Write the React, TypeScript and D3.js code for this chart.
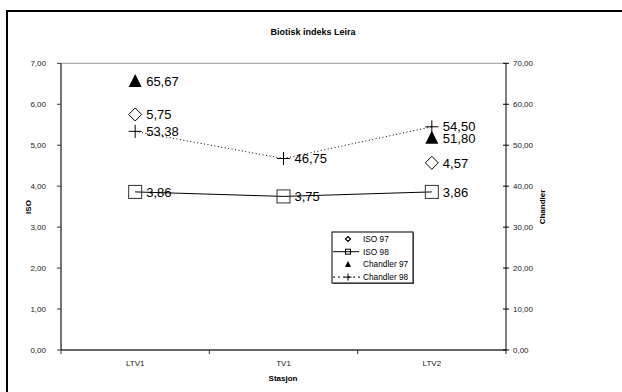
import React from "react";
import * as d3 from "d3";

const categories = ["LTV1", "TV1", "LTV2"];
const iso97: (number | null)[] = [5.75, null, 4.57];
const iso98: (number | null)[] = [3.86, 3.75, 3.86];
const chandler97: (number | null)[] = [65.67, null, 51.8];
const chandler98: (number | null)[] = [53.38, 46.75, 54.5];
const leftTicks = [0, 1, 2, 3, 4, 5, 6, 7];
const rightTicks = [0, 10, 20, 30, 40, 50, 60, 70];
const legendItems = ["ISO 97", "ISO 98", "Chandler 97", "Chandler 98"];

const W = 622;
const H = 392;
const PL = 61, PR = 506, PT = 63.3, PB = 350;

const loc = d3.formatLocale({ decimal: ",", thousands: " ", grouping: [3], currency: ["", ""] });
const f2 = loc.format(".2f");

const x = d3.scaleBand<string>().domain(categories).range([PL, PR]);
const cx = (c: string) => (x(c) as number) + x.bandwidth() / 2;
const yL = d3.scaleLinear().domain([0, 7]).range([PB, PT]);
const yR = d3.scaleLinear().domain([0, 70]).range([PB, PT]);

const FONT = "'Liberation Sans', Arial, sans-serif";

function diamond(px: number, py: number, r: number) {
  return `M${px},${py - r}L${px + r},${py}L${px},${py + r}L${px - r},${py}Z`;
}
function tri(px: number, py: number, r: number) {
  return `M${px},${py - r - 0.5}L${px + r},${py + r - 0.5}L${px - r},${py + r - 0.5}Z`;
}

export default function App() {
  const pts = (vals: (number | null)[], y: d3.ScaleLinear<number, number>) =>
    categories
      .map((c, i) => ({ c, v: vals[i], px: cx(c), py: vals[i] == null ? 0 : y(vals[i] as number) }))
      .filter((p) => p.v != null);

  const p97 = pts(iso97, yL);
  const p98 = pts(iso98, yL);
  const c97 = pts(chandler97, yR);
  const c98 = pts(chandler98, yR);

  const line = d3.line<{ px: number; py: number }>().x((d) => d.px).y((d) => d.py);

  const bounds = [0, 1, 2, 3].map((i) => PL + i * x.bandwidth());

  const labelFs = 13;
  const lx = 332, ly = 232, lw = 81, lh = 51;
  const rowY = (i: number) => ly + 7 + i * 12.7;
  const symX = 348;

  return (
    <svg width={W} height={H} style={{ position: "absolute", left: 0, top: 0, background: "#fff" }} fontFamily={FONT}>
      <rect x={0} y={0} width={W} height={H} fill="#fff" />
      {/* outer border */}
      <rect x={7} y={11} width={W + 10} height={H + 10} fill="none" stroke="#000" strokeWidth={2} />
      <text x={313} y={35} textAnchor="middle" fontSize={9} fontWeight="bold">Biotisk indeks Leira</text>

      {/* plot frame */}
      <line x1={PL} x2={PR} y1={PT} y2={PT} stroke="#999" strokeWidth={1} />
      <line x1={PL} x2={PL} y1={PT} y2={PB} stroke="#444" strokeWidth={1.5} />
      <line x1={PR} x2={PR} y1={PT} y2={PB} stroke="#000" strokeWidth={1} />
      <line x1={PL} x2={PR + 0.5} y1={PB} y2={PB} stroke="#333" strokeWidth={1.5} />

      {/* left ticks */}
      {leftTicks.map((t) => (
        <g key={"l" + t}>
          <line x1={PL - 4} x2={PL} y1={yL(t)} y2={yL(t)} stroke="#333" />
          <text x={46} y={yL(t)} dy="0.35em" textAnchor="end" fontSize={8} fill="#222">{f2(t)}</text>
        </g>
      ))}
      {/* right ticks */}
      {rightTicks.map((t) => (
        <g key={"r" + t}>
          <line x1={PR - 3} x2={PR + 3} y1={yR(t)} y2={yR(t)} stroke="#000" />
          <text x={513} y={yR(t)} dy="0.35em" textAnchor="start" fontSize={8} fill="#222">{f2(t)}</text>
        </g>
      ))}
      {/* bottom ticks */}
      {bounds.map((b, i) => (
        <line key={"b" + i} x1={b} x2={b} y1={PB} y2={PB + 4} stroke="#333" />
      ))}
      {categories.map((c) => (
        <text key={c} x={cx(c)} y={366} textAnchor="middle" fontSize={8} fill="#222">{c}</text>
      ))}
      <text x={283} y={381} textAnchor="middle" fontSize={8} fontWeight="bold">Stasjon</text>
      <text transform={`translate(31,207) rotate(-90)`} textAnchor="middle" fontSize={8} fontWeight="bold">ISO</text>
      <text transform={`translate(545,207) rotate(-90)`} textAnchor="middle" fontSize={8} fontWeight="bold">Chandler</text>

      {/* lines */}
      <path d={line(p98) as string} fill="none" stroke="#000" strokeWidth={1} />
      <path d={line(c98) as string} fill="none" stroke="#000" strokeWidth={1} strokeDasharray="1,2.5" />

      {/* markers */}
      {p97.map((p) => (
        <path key={"d" + p.c} d={diamond(p.px, p.py, 6.5)} fill="#fff" stroke="#000" strokeWidth={1} />
      ))}
      {p98.map((p) => (
        <rect key={"s" + p.c} x={p.px - 6.5} y={p.py - 6.5} width={13} height={13} fill="none" stroke="#333" strokeWidth={1} />
      ))}
      {c97.map((p) => (
        <path key={"t" + p.c} d={tri(p.px, p.py, 6.5)} fill="#000" />
      ))}
      {c98.map((p) => (
        <g key={"c" + p.c} stroke="#000" strokeWidth={1}>
          <line x1={p.px - 6.5} x2={p.px + 6.5} y1={p.py} y2={p.py} />
          <line x1={p.px} x2={p.px} y1={p.py - 6.5} y2={p.py + 6.5} />
        </g>
      ))}

      {/* data labels */}
      {[...p97, ...p98, ...c97, ...c98].map((p, i) => (
        <text key={"lab" + i} x={p.px + 11} y={p.py} dy="0.36em" fontSize={labelFs} fill="#000">{f2(p.v as number)}</text>
      ))}

      {/* legend */}
      <rect x={lx + 1} y={ly + 1} width={lw} height={lh} fill="#777" />
      <rect x={lx} y={ly} width={lw} height={lh} fill="#fff" stroke="#000" strokeWidth={1} />
      <path d={diamond(symX, rowY(0), 2.5)} fill="#fff" stroke="#000" strokeWidth={1.2} />
      <line x1={lx + 1} x2={lx + 27} y1={rowY(1)} y2={rowY(1)} stroke="#000" />
      <rect x={symX - 2.5} y={rowY(1) - 2.5} width={5} height={5} fill="none" stroke="#000" />
      <path d={tri(symX, rowY(2), 3)} fill="#000" />
      <line x1={lx + 1} x2={lx + 28} y1={rowY(3)} y2={rowY(3)} stroke="#000" strokeDasharray="2,3" />
      <line x1={symX - 3.5} x2={symX + 3.5} y1={rowY(3)} y2={rowY(3)} stroke="#000" />
      <line x1={symX} x2={symX} y1={rowY(3) - 3.5} y2={rowY(3) + 3.5} stroke="#000" />
      {legendItems.map((t, i) => (
        <text key={t} x={363} y={rowY(i)} dy="0.35em" fontSize={8.3} fill="#000">{t}</text>
      ))}
    </svg>
  );
}
